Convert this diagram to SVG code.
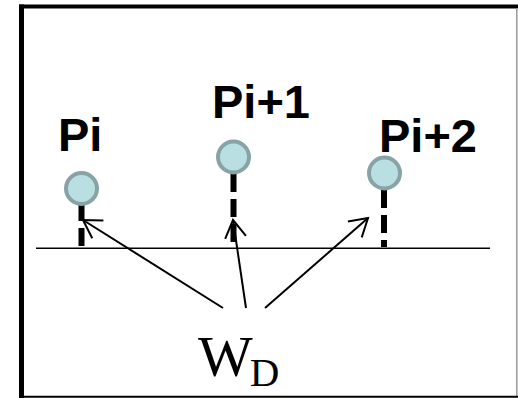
<svg xmlns="http://www.w3.org/2000/svg" width="518" height="398" viewBox="0 0 518 398">
<style>
.lbl{font-family:"Liberation Sans",Arial,sans-serif;font-weight:bold;font-size:47px;fill:#000}
.pt{fill:#b9dfe3;stroke:#88a3a5;stroke-width:4}
.stem{stroke:#000;stroke-width:6;stroke-dasharray:18 7;fill:none}
.arr{stroke:#000;stroke-width:2;fill:none;marker-end:url(#ah)}
.wd{font-family:"Liberation Serif","Times New Roman",serif;fill:#000}
</style>
<defs>
<marker id="ah" markerUnits="userSpaceOnUse" markerWidth="24" markerHeight="24" viewBox="-22 -12 24 24" refX="0" refY="0" orient="auto" overflow="visible">
<path d="M-17.5 -10.5 L0 0 L-17.5 10.5" fill="none" stroke="#000" stroke-width="2"/>
</marker>
</defs>
<rect x="0" y="0" width="518" height="398" fill="#fff"/>
<g id="frame">
<line x1="21.5" y1="4.5" x2="21.5" y2="398" stroke="#000" stroke-width="5"/>
<line x1="19" y1="6.5" x2="518" y2="6.5" stroke="#000" stroke-width="4"/>
<line x1="516.8" y1="8" x2="516.8" y2="396" stroke="#999" stroke-width="1.5"/>
<line x1="19" y1="396.8" x2="518" y2="396.8" stroke="#000" stroke-width="2"/>
</g>
<g id="baseline">
<line x1="36" y1="248.3" x2="490" y2="248.3" stroke="#000" stroke-width="1.5"/>
</g>
<g id="node-pi">
<line class="stem" x1="81.5" y1="203" x2="81.5" y2="247"/>
<circle class="pt" cx="81.5" cy="188.5" r="15.5"/>
<text class="lbl" x="58" y="151">Pi</text>
</g>
<g id="node-pi1">
<line class="stem" x1="233.5" y1="174" x2="233.5" y2="247"/>
<circle class="pt" cx="233.5" cy="157" r="15.5"/>
<text class="lbl" x="212" y="118">Pi+1</text>
</g>
<g id="node-pi2">
<line class="stem" x1="384" y1="190" x2="384" y2="247"/>
<circle class="pt" cx="384.5" cy="173" r="15.5"/>
<text class="lbl" x="379" y="151.5">Pi+2</text>
</g>
<g id="node-wd">
<text class="wd" x="198" y="376" font-size="58">W<tspan font-size="41" dx="-3" dy="10">D</tspan></text>
</g>
<g id="connectors">
<line class="arr" x1="223" y1="308" x2="83" y2="220"/>
<line class="arr" x1="246" y1="308" x2="233" y2="220"/>
<line class="arr" x1="265" y1="308" x2="368" y2="218"/>
</g>
</svg>
